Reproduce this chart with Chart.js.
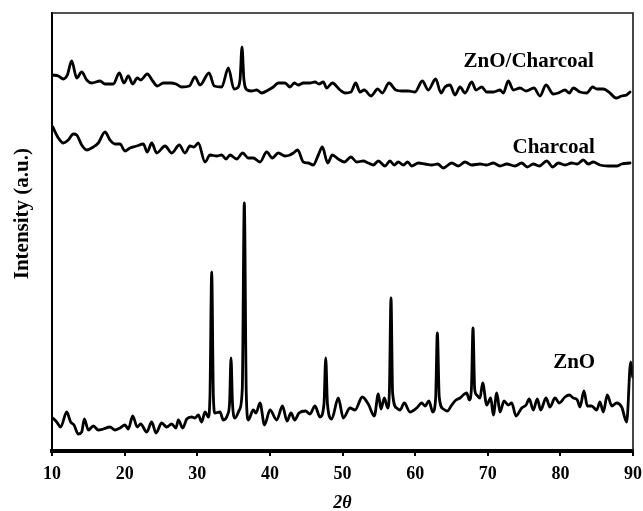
<!DOCTYPE html>
<html>
<head>
<meta charset="utf-8">
<script src="https://cdn.jsdelivr.net/npm/chart.js@4.4.1/dist/chart.umd.min.js"></script>
<style>
  html, body { margin: 0; padding: 0; background: #fff; }
  canvas { display: block; }
</style>
</head>
<body>
<canvas id="xrd" width="643" height="511"></canvas>
<script>
// 2theta (deg) and intensity (a.u.), one pair of arrays per pattern
const compositeX = [10.10, 10.87, 11.56, 12.11, 12.71, 13.40, 14.09, 14.78, 15.47, 16.61, 17.30, 18.44, 19.27, 19.91, 20.51, 21.11, 21.74, 22.21, 23.12, 23.87, 24.50, 25.33, 26.34, 27.07, 27.86, 28.91, 29.69, 30.38, 31.62, 32.35, 33.37, 34.28, 35.06, 35.51, 35.90, 36.16, 36.42, 36.89, 37.50, 38.19, 38.87, 39.78, 40.47, 41.16, 42.08, 42.77, 43.36, 43.91, 44.60, 45.52, 46.21, 46.76, 47.36, 47.82, 48.60, 49.66, 50.34, 51.17, 51.82, 52.41, 53.00, 53.92, 54.85, 55.48, 56.40, 57.33, 58.15, 59.06, 59.98, 60.99, 61.81, 62.83, 63.56, 64.11, 64.80, 65.49, 66.18, 66.87, 67.79, 68.38, 69.17, 69.86, 70.77, 71.69, 72.14, 72.83, 73.52, 74.44, 75.27, 76.37, 77.19, 78.02, 79.02, 79.71, 80.64, 81.23, 81.78, 82.70, 83.62, 84.45, 85.00, 85.91, 86.83, 87.66, 88.44, 89.13, 89.59];
const compositeY = [376, 375, 372, 376, 390, 373, 379, 371, 368, 370, 367, 367, 378, 368, 375, 367, 373, 371, 377, 370, 365, 368, 368, 367, 364, 365, 374, 366, 378, 365, 364, 383, 362, 363, 372, 404, 372, 361, 360, 361, 358, 361, 364, 368, 368, 364, 368, 366, 368, 368, 369, 367, 369, 363, 368, 361, 358, 359, 368, 359, 361, 355, 362, 358, 368, 361, 360, 360, 359, 370, 361, 372, 358, 364, 366, 356, 364, 358, 369, 361, 364, 359, 359, 361, 358, 370, 361, 363, 360, 363, 355, 366, 357, 358, 361, 358, 363, 359, 358, 364, 362, 362, 358, 353, 355, 356, 359];

const charcoalX = [10.10, 10.87, 11.56, 12.24, 12.93, 13.40, 14.09, 14.78, 15.69, 16.38, 17.30, 17.99, 18.67, 19.36, 20.05, 20.74, 21.66, 22.57, 23.12, 23.73, 24.42, 25.56, 26.48, 27.53, 28.31, 29.00, 29.55, 30.14, 31.07, 31.76, 32.68, 33.37, 33.96, 34.51, 35.43, 36.26, 37.03, 37.72, 38.64, 39.56, 40.33, 41.16, 42.08, 42.77, 43.23, 43.83, 44.60, 45.29, 45.98, 46.67, 47.22, 47.96, 48.60, 49.42, 50.25, 51.17, 51.96, 52.86, 53.55, 54.24, 54.93, 55.85, 56.54, 57.13, 57.68, 58.37, 58.98, 59.53, 60.44, 61.36, 62.28, 63.11, 63.88, 65.04, 65.94, 66.87, 67.79, 68.93, 69.86, 70.77, 71.69, 72.61, 73.75, 74.67, 75.45, 76.27, 77.10, 78.12, 78.94, 79.71, 80.64, 81.56, 82.33, 83.16, 83.84, 84.53, 85.45, 86.60, 87.75, 88.44, 89.59];
const charcoalY = [324, 313, 308, 311, 317, 316, 306, 301, 304, 308, 319, 311, 307, 307, 300, 303, 305, 307, 299, 308, 298, 305, 298, 306, 298, 305, 304, 308, 289, 296, 295, 296, 292, 296, 292, 298, 293, 293, 289, 299, 293, 298, 295, 296, 298, 301, 289, 288, 286, 296, 304, 288, 296, 292, 289, 294, 289, 290, 288, 286, 290, 285, 290, 286, 289, 286, 289, 285, 288, 287, 286, 287, 283, 288, 285, 289, 286, 287, 286, 288, 285, 287, 285, 288, 284, 287, 285, 290, 284, 288, 286, 288, 287, 291, 287, 289, 286, 285, 285, 287, 288];

const znoX = [10.10, 10.65, 11.20, 12.02, 12.57, 13.03, 13.62, 14.09, 14.45, 15.00, 15.69, 16.38, 17.06, 17.99, 18.67, 19.36, 20.05, 20.51, 21.11, 21.74, 22.21, 23.04, 23.73, 24.32, 25.10, 25.79, 26.48, 27.07, 27.39, 28.00, 28.55, 29.24, 29.69, 30.14, 30.61, 31.07, 31.52, 31.75, 31.99, 32.22, 32.44, 33.13, 33.59, 34.16, 34.45, 34.65, 34.85, 35.20, 35.79, 36.20, 36.48, 36.75, 37.03, 37.72, 38.09, 38.64, 39.26, 40.02, 40.94, 41.74, 42.36, 42.91, 43.42, 44.01, 44.91, 45.52, 46.21, 46.90, 47.45, 47.69, 47.93, 48.51, 49.42, 50.11, 51.03, 51.72, 52.73, 53.55, 54.38, 54.93, 55.30, 55.76, 56.22, 56.45, 56.68, 56.90, 57.46, 57.92, 58.51, 59.29, 60.22, 60.91, 61.36, 61.91, 62.42, 62.82, 63.06, 63.32, 63.88, 64.43, 65.04, 65.63, 66.18, 66.63, 67.10, 67.46, 67.75, 67.97, 68.20, 68.48, 68.93, 69.30, 69.86, 70.41, 70.77, 71.24, 71.69, 72.24, 72.83, 73.30, 73.89, 74.67, 75.27, 75.72, 76.27, 76.82, 77.29, 78.02, 78.57, 79.26, 79.85, 80.64, 81.23, 81.78, 82.33, 82.70, 83.25, 83.71, 84.31, 85.00, 85.45, 85.91, 86.46, 87.08, 87.75, 88.44, 89.13, 89.68, 89.96];
const znoY = [33, 29, 24, 39, 29, 26, 17, 19, 32, 21, 25, 21, 22, 24, 21, 23, 26, 22, 35, 24, 27, 19, 29, 18, 28, 24, 27, 23, 31, 23, 32, 34, 33, 36, 29, 39, 34, 55, 179, 55, 38, 39, 31, 36, 48, 93, 48, 33, 41, 62, 248, 58, 31, 41, 38, 48, 26, 41, 31, 45, 30, 38, 31, 38, 40, 37, 45, 34, 47, 93, 47, 32, 53, 33, 43, 41, 54, 47, 35, 57, 42, 53, 43, 58, 153, 58, 43, 41, 48, 39, 43, 48, 45, 50, 39, 52, 118, 54, 42, 40, 46, 51, 53, 56, 58, 51, 62, 123, 62, 56, 53, 68, 46, 53, 36, 58, 39, 50, 46, 48, 35, 43, 46, 52, 41, 52, 41, 53, 44, 53, 48, 54, 56, 53, 51, 44, 60, 45, 45, 41, 49, 39, 56, 45, 48, 44, 29, 89, 74];

const xTicks = [10, 20, 30, 40, 50, 60, 70, 80, 90];

// curve names written next to each pattern, anchored in data units
const curveNames = ["ZnO/Charcoal", "Charcoal", "ZnO"];
const nameX = [75.64, 79.08, 81.9];
const nameY = [389, 303, 88];

const serif = '"Liberation Serif", "Times New Roman", serif';

function pairs(xs, ys) {
    return xs.map((x, i) => ({ x, y: ys[i] }));
}

function pattern(label, xs, ys) {
    return {
        label,
        data: pairs(xs, ys),
        borderColor: "#000",
        borderWidth: 2.8,
        pointRadius: 0,
        fill: false,
        cubicInterpolationMode: "monotone",
        borderJoinStyle: "round",
        borderCapStyle: "round"
    };
}

// top and right edges of the plot frame, plus the curve names
const frameAndNames = {
    id: "frameAndNames",
    afterDraw(chart) {
        const { ctx, chartArea: { left, top, right, bottom }, scales: { x, y } } = chart;
        ctx.save();
        ctx.strokeStyle = "#1a1a1a";
        ctx.lineWidth = 1.6;
        ctx.beginPath();
        ctx.moveTo(left, top);
        ctx.lineTo(right, top);
        ctx.lineTo(right, bottom);
        ctx.stroke();

        ctx.fillStyle = "#000";
        ctx.font = `bold 21px ${serif}`;
        ctx.textAlign = "center";
        ctx.textBaseline = "middle";
        curveNames.forEach((name, i) => {
            ctx.fillText(name, x.getPixelForValue(nameX[i]), y.getPixelForValue(nameY[i]));
        });
        ctx.restore();
    }
};

new Chart(document.getElementById("xrd").getContext("2d"), {
    type: "line",
    data: {
        datasets: [
            pattern("ZnO/Charcoal", compositeX, compositeY),
            pattern("Charcoal", charcoalX, charcoalY),
            pattern("ZnO", znoX, znoY)
        ]
    },
    options: {
        responsive: false,
        animation: false,
        layout: { padding: { top: 13, right: 10, bottom: 0, left: 0 } },
        plugins: {
            legend: { display: false },
            tooltip: { enabled: false }
        },
        scales: {
            x: {
                type: "linear",
                min: 10,
                max: 90,
                afterFit: (s) => { s.height = 60; s.paddingLeft = 0; s.paddingRight = 0; },
                afterBuildTicks: (s) => { s.ticks = xTicks.map(value => ({ value })); },
                grid: {
                    display: true,
                    drawOnChartArea: false,
                    drawTicks: true,
                    tickLength: 5,
                    color: "#000",
                    lineWidth: 2
                },
                border: { display: true, color: "#000", width: 4 },
                ticks: {
                    color: "#000",
                    padding: 8,
                    maxRotation: 0,
                    font: { family: serif, size: 18, weight: "bold" }
                },
                title: {
                    display: true,
                    text: "2θ",
                    color: "#000",
                    padding: 0,
                    font: { family: serif, size: 18, weight: "bold", style: "italic", lineHeight: 0.88 }
                }
            },
            y: {
                min: 0,
                max: 438,
                afterFit: (s) => { s.width = 52; },
                grid: { display: false },
                border: { display: true, color: "#000", width: 2 },
                ticks: { display: false },
                title: {
                    display: true,
                    text: "\u2002\u2002\u2002 Intensity (a.u.)",
                    color: "#000",
                    padding: { top: 10, bottom: 0 },
                    font: { family: serif, size: 21, weight: "bold" }
                }
            }
        }
    },
    plugins: [frameAndNames]
});
</script>
</body>
</html>
